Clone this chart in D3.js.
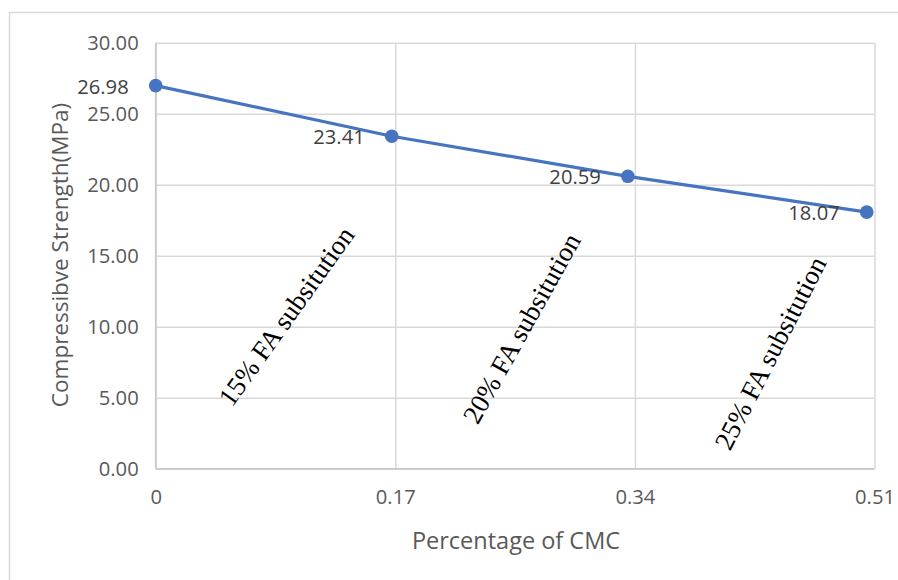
<!DOCTYPE html>
<html>
<head>
<meta charset="utf-8">
<script src="https://cdn.jsdelivr.net/npm/d3@7"></script>
<style>
  html, body { margin: 0; padding: 0; background: #fff; }
  svg { display: block; }
</style>
</head>
<body>
<svg id="chart" width="898" height="580"></svg>
<script>
// Compressive strength against CMC content
const cmcLevels = [0, 0.1675, 0.335, 0.5045];
const strength = [26.98, 23.41, 20.59, 18.07];
const xTicks = [0, 0.17, 0.34, 0.51];
const xTickLabels = ["0", "0.17", "0.34", "0.51"];
const yTicks = [0, 5, 10, 15, 20, 25, 30];
const notes = ["15% FA subsitution", "20% FA subsitution", "25% FA subsitution"];
const noteX = [0.0925, 0.2595, 0.436];
const noteY = [10.75, 9.9, 8.15];
const noteAngle = [-54.5, -60.8, -62.8];

const svg = d3.select("#chart");
const plot = { left: 155.7, right: 874.5, top: 42.7, bottom: 468.7 };

const x = d3.scaleLinear().domain([0, 0.51]).range([plot.left, plot.right]);
const y = d3.scaleLinear().domain([0, 30]).range([plot.bottom, plot.top]);

const labelFont = "'Open Sans', 'Noto Sans', sans-serif";
const textGrey = "#595959";
const gridGrey = "#d9d9d9";
const blue = "#4674c1";

// chart area frame
svg.append("rect")
  .attr("x", 9.5).attr("y", 12.5)
  .attr("width", 910).attr("height", 600)
  .attr("fill", "#fff")
  .attr("stroke", gridGrey).attr("stroke-width", 1.5);

// horizontal gridlines
svg.append("g")
  .attr("transform", `translate(${plot.left},0)`)
  .call(d3.axisLeft(y).tickValues(yTicks).tickSize(-(plot.right - plot.left)).tickFormat(""))
  .call(g => g.select(".domain").remove())
  .call(g => g.selectAll("line").attr("stroke", gridGrey).attr("stroke-width", 1.5));

// vertical gridlines
svg.append("g")
  .attr("transform", `translate(0,${plot.bottom})`)
  .call(d3.axisBottom(x).tickValues(xTicks).tickSize(-(plot.bottom - plot.top)).tickFormat(""))
  .call(g => g.select(".domain").remove())
  .call(g => g.selectAll("line").attr("stroke", gridGrey).attr("stroke-width", 1.5));

// axis lines
svg.append("line")
  .attr("x1", plot.left).attr("x2", plot.left)
  .attr("y1", plot.top).attr("y2", plot.bottom)
  .attr("stroke", "#c8c8c8").attr("stroke-width", 1.5);
svg.append("line")
  .attr("x1", plot.left).attr("x2", plot.right)
  .attr("y1", plot.bottom).attr("y2", plot.bottom)
  .attr("stroke", "#c8c8c8").attr("stroke-width", 1.5);

// y tick labels
svg.append("g")
  .attr("transform", `translate(${plot.left},0)`)
  .call(d3.axisLeft(y).tickValues(yTicks).tickSize(0).tickPadding(17).tickFormat(d3.format(".2f")))
  .call(g => g.select(".domain").remove())
  .call(g => g.selectAll("text")
    .attr("font-family", labelFont).attr("font-size", 20.2).attr("fill", textGrey));

// x tick labels
svg.append("g")
  .attr("transform", `translate(0,${plot.bottom})`)
  .call(d3.axisBottom(x).tickValues(xTicks).tickSize(0).tickPadding(21)
    .tickFormat((d, i) => xTickLabels[i]))
  .call(g => g.select(".domain").remove())
  .call(g => g.selectAll("text")
    .attr("font-family", labelFont).attr("font-size", 20.2).attr("fill", textGrey));

// axis titles
svg.append("text")
  .attr("x", 516).attr("y", 541)
  .attr("dy", "0.35em")
  .attr("text-anchor", "middle")
  .attr("font-family", labelFont).attr("font-size", 23.5).attr("fill", textGrey)
  .text("Percentage of CMC");

svg.append("text")
  .attr("transform", "translate(60,255) rotate(-90)")
  .attr("dy", "0.35em")
  .attr("text-anchor", "middle")
  .attr("font-family", labelFont).attr("font-size", 22.5).attr("fill", textGrey)
  .text("Compressibve Strength(MPa)");

// series
const pts = cmcLevels.map((c, i) => ({ c, v: strength[i] }));

svg.append("path")
  .datum(pts)
  .attr("fill", "none")
  .attr("stroke", blue)
  .attr("stroke-width", 3.2)
  .attr("stroke-linejoin", "round")
  .attr("d", d3.line().x(d => x(d.c)).y(d => y(d.v)));

svg.append("g")
  .selectAll("circle")
  .data(pts)
  .join("circle")
  .attr("cx", d => x(d.c)).attr("cy", d => y(d.v))
  .attr("r", 6.8)
  .attr("fill", blue);

// value labels
svg.append("g")
  .selectAll("text")
  .data(pts)
  .join("text")
  .attr("x", d => x(d.c) - 27)
  .attr("y", d => y(d.v) + 1)
  .attr("dy", "0.35em")
  .attr("text-anchor", "end")
  .attr("font-family", labelFont).attr("font-size", 20.2).attr("fill", "#404040")
  .text(d => d.v.toFixed(2));

// substitution notes
svg.append("g")
  .selectAll("text")
  .data(notes)
  .join("text")
  .attr("transform", (d, i) => `translate(${x(noteX[i])},${y(noteY[i])}) rotate(${noteAngle[i]})`)
  .attr("dy", "0.35em")
  .attr("text-anchor", "middle")
  .attr("font-family", "'Liberation Serif', 'DejaVu Serif', serif")
  .attr("font-size", 27)
  .attr("fill", "#000")
  .text(d => d);
</script>
</body>
</html>
